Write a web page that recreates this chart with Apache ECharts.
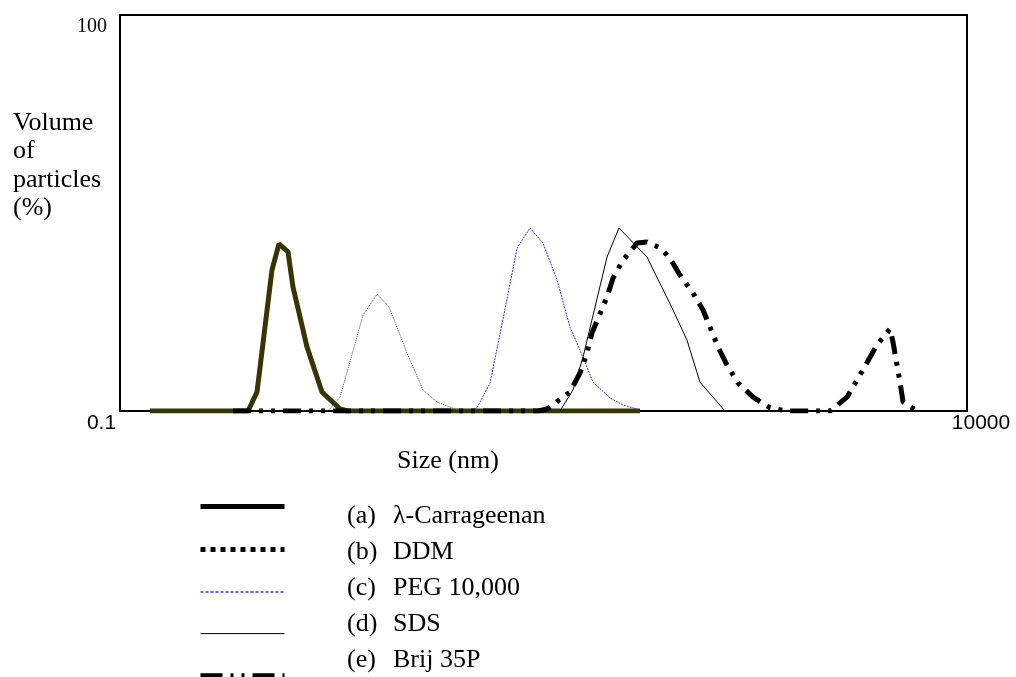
<!DOCTYPE html>
<html>
<head>
<meta charset="utf-8">
<title>Particle size distribution</title>
<script src="https://cdn.jsdelivr.net/npm/echarts@6/dist/echarts.min.js"></script>
<style>
  html, body { margin: 0; padding: 0; background: #fff; }
  #chart { width: 1016px; height: 677px; }
</style>
</head>
<body>
<div id="chart"></div>
<script>
// size (nm) / volume (%)
const carrSize = [0.150, 0.570, 0.644, 0.789, 0.868, 0.981, 1.050, 1.270, 1.557, 1.990, 2.200, 117.4];
const carrVol  = [0, 0, 4.8, 35.6, 42.2, 40.2, 31.3, 16.2, 4.8, 0.5, 0, 0];

const ddmSize = [1.20, 1.69, 1.99, 2.72, 3.29, 3.87, 4.95, 6.15, 7.43, 8.87, 10.2];
const ddmVol  = [0, 0, 3.5, 24.2, 29.5, 26.3, 14.6, 5.3, 2.3, 1.0, 0];

const pegSize = [12.0, 12.8, 15.3, 18.2, 22.1, 26.3, 31.4, 38.0, 45.3, 51.9, 62.0, 78.1, 93.2, 112.7];
const pegVol  = [0, 0.8, 7.1, 23.0, 41.2, 46.2, 42.4, 33.1, 21.2, 15.4, 7.3, 3.3, 1.5, 0.5];

const sdsSize = [39.6, 47.2, 54.1, 75.0, 88.2, 129.1, 183.9, 222.4, 265.3, 372.7];
const sdsVol  = [0, 5.3, 13.6, 38.9, 46.2, 38.9, 25.5, 17.9, 7.3, 0];

const brijSize = [0.465, 29.4, 33.2, 45.3, 51.9, 57.1, 61.1, 75.0, 81.4, 93.2, 112.7, 129.1, 154.1, 176.5,
  202.2, 241.3, 276.4, 338.9, 383.0, 444.8, 545.5, 687.4, 865.8, 1553, 1957, 2433, 2942, 3513, 3658, 4022, 4191, 5069];
const brijVol  = [0, 0, 0.5, 4.8, 9.6, 14.6, 19.7, 28.8, 33.6, 38.1, 42.4, 42.7, 41.2, 38.6,
  34.3, 29.8, 25.5, 16.2, 11.6, 7.1, 3.5, 0.8, 0, 0, 3.5, 10.4, 16.7, 20.7, 17.4, 7.3, 2.3, 0];

const seriesNames = ["λ-Carrageenan", "DDM", "PEG 10,000", "SDS", "Brij 35P"];
const seriesTags = ["(a)", "(b)", "(c)", "(d)", "(e)"];
const xTickLabels = ["0.1", "10000"];
const yTickLabels = ["100"];
const xTitle = "Size (nm)";
const yTitleLines = ["Volume", "of", "particles", "(%)"];

const SERIF = "'Liberation Serif', 'Times New Roman', serif";
const SANS = "'Liberation Sans', Arial, sans-serif";

const zip = (xs, ys) => xs.map((x, i) => [x, ys[i]]);

const mkLine = (name, xs, ys, lineStyle) => ({
  name: name,
  type: "line",
  data: zip(xs, ys),
  symbol: "none",
  smooth: false,
  animation: false,
  emphasis: { disabled: true },
  itemStyle: { color: lineStyle.color },
  lineStyle: lineStyle,
});

const chart = echarts.init(document.getElementById("chart"));

const legendText = seriesNames
  .map((n, i) => "{p|" + seriesTags[i] + "}{n|" + n + "}")
  .join("\n");

// legend only draws the line samples, labels sit in their own text block
const noSymbol = { opacity: 0 };

const option = {
  backgroundColor: "#fff",
  title: [
    {
      text: yTitleLines.join("\n"),
      left: 13,
      top: 109,
      padding: 0,
      textStyle: { fontFamily: SERIF, fontSize: 26, fontWeight: "normal", color: "#000", lineHeight: 28.3 },
    },
    {
      text: xTitle,
      left: 397,
      top: 448,
      padding: 0,
      textStyle: { fontFamily: SERIF, fontSize: 26, fontWeight: "normal", color: "#000", lineHeight: 26 },
    },
    {
      text: legendText,
      left: 347,
      top: 498,
      padding: 0,
      textStyle: {
        fontFamily: SERIF, fontSize: 26, fontWeight: "normal", color: "#000", lineHeight: 36,
        rich: {
          p: { width: 46, fontFamily: SERIF, fontSize: 26, color: "#000", lineHeight: 36 },
          n: { fontFamily: SERIF, fontSize: 26, color: "#000", lineHeight: 36 },
        },
      },
    },
  ],
  legend: {
    orient: "vertical",
    left: 198,
    top: 504,
    padding: 0,
    itemWidth: 84,
    itemHeight: 4,
    itemGap: 38,
    selectedMode: false,
    formatter: () => "",
    data: [
      { name: seriesNames[0], itemStyle: noSymbol, lineStyle: { color: "#000", width: 5, type: "solid" } },
      { name: seriesNames[1], itemStyle: noSymbol, lineStyle: { color: "#000", width: 5, type: [5, 5] } },
      { name: seriesNames[2], itemStyle: noSymbol, lineStyle: { color: "#3333ff", width: 1.5, type: [3, 2] } },
      { name: seriesNames[3], itemStyle: noSymbol, lineStyle: { color: "#000", width: 1, type: "solid" } },
      { name: seriesNames[4], itemStyle: noSymbol, lineStyle: { color: "#000", width: 4, type: [22, 8, 3, 8, 3, 8] } },
    ],
  },
  grid: {
    left: 120,
    right: 49,
    top: 15,
    bottom: 266,
    show: true,
    borderColor: "#000",
    borderWidth: 2,
    backgroundColor: "transparent",
  },
  xAxis: {
    type: "log",
    logBase: 10,
    min: 0.1,
    max: 10000,
    axisLine: { show: true, lineStyle: { color: "#000", width: 2 } },
    axisTick: { show: false },
    splitLine: { show: false },
    axisLabel: {
      showMinLabel: true,
      showMaxLabel: true,
      margin: 2,
      color: "#000",
      fontFamily: SANS,
      fontSize: 21,
      lineHeight: 21,
      formatter: (v) => {
        const e = Math.round(Math.log10(v));
        if (e === -1) return "{l|" + xTickLabels[0] + "}";
        if (e === 4) return "{r|" + xTickLabels[1] + "}";
        return "";
      },
      rich: {
        l: { padding: [0, 37, 0, 0], fontFamily: SANS, fontSize: 21, color: "#000", lineHeight: 21 },
        r: { padding: [0, 0, 0, 28], fontFamily: SANS, fontSize: 21, color: "#000", lineHeight: 21 },
      },
    },
  },
  yAxis: {
    type: "value",
    min: 0,
    max: 100,
    interval: 100,
    axisLine: { show: false },
    axisTick: { show: false },
    splitLine: { show: false },
    axisLabel: {
      margin: 13,
      color: "#000",
      fontFamily: SERIF,
      fontSize: 20,
      verticalAlign: "top",
      lineHeight: 24,
      formatter: (v) => (v === 100 ? yTickLabels[0] : ""),
    },
  },
  series: [
    mkLine(seriesNames[0], carrSize, carrVol, { color: "#363600", width: 5 }),
    mkLine(seriesNames[1], ddmSize, ddmVol, { color: "#555", width: 1, type: [1, 1] }),
    mkLine(seriesNames[2], pegSize, pegVol, { color: "#3333ff", width: 1, type: [2, 1] }),
    mkLine(seriesNames[3], sdsSize, sdsVol, { color: "#000", width: 1 }),
    mkLine(seriesNames[4], brijSize, brijVol, { color: "#000", width: 5, type: [18, 8, 4, 8, 4, 8] }),
  ],
};

chart.setOption(option);
</script>
</body>
</html>
